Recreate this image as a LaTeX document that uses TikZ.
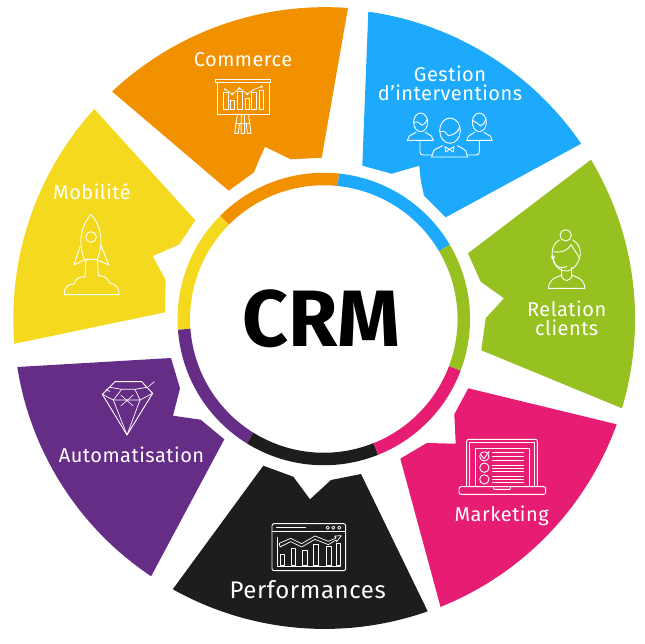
\documentclass[tikz,border=0pt]{standalone}
\usepackage{fontspec}
\setmainfont{Fira Sans}
\newfontfamily\lbl[LetterSpace=2.5]{Fira Sans}
\definecolor{cOrange}{HTML}{F29100}
\definecolor{cBlue}{HTML}{1EAAFC}
\definecolor{cYellow}{HTML}{F4D91E}
\definecolor{cGreen}{HTML}{97C021}
\definecolor{cPink}{HTML}{E71D73}
\definecolor{cBlack}{HTML}{1D1D1B}
\definecolor{cPurple}{HTML}{662D87}
\tikzset{
  icon/.style={draw=white,line width=0.9pt,line join=round,line cap=round,fill=none},
  label/.style={text=white,font=\lbl\fontsize{20}{20}\selectfont,anchor=base,inner sep=0pt},
  ringarc/.style={line width=12.5pt,line cap=butt},
  zoomed/.style={x=0.33333pt,y=-0.33333pt}
}
\begin{document}
\begin{tikzpicture}[x=1pt,y=1pt]
\useasboundingbox (0,0) rectangle (645,-643);
% wedges
\fill[cOrange] (348,-8) arc[start angle=85.8,end angle=133.2,radius=311.3]
  -- (228.7,-190.7) -- (254,-172.3) -- (258.3,-161.7) -- (265,-146.7) -- (290.7,-159.3) -- (321.7,-157.7) -- cycle;
\fill[cBlue] (368.3,-11.7) arc[start angle=82,end angle=34.4,radius=310.3]
  -- (445.7,-217.3) -- (424,-195.7) -- (420.7,-180) -- (419.3,-165.7) -- (391.7,-173.7) -- (362.3,-165.7) -- cycle;
\fill[cYellow] (94.3,-109) arc[start angle=137.7,end angle=184.7,radius=311]
  -- (165,-312.3) -- (165.7,-280.3) -- (152.7,-256) -- (179,-244.7) -- (195.3,-220.3) -- cycle;
\fill[cGreen] (591,-159.7) arc[start angle=30.9,end angle=-16.7,radius=310.4]
  -- (481.3,-350.3) -- (485.7,-318.3) -- (504,-298.3) -- (480.7,-281.7) -- (468,-253.3) -- cycle;
\fill[cPink] (616.7,-424.3) arc[start angle=-19.85,end angle=-68.1,radius=310.4]
  -- (400.3,-458.7) -- (426.7,-443) -- (455.7,-443.7) -- (454.3,-414.3) -- (468.3,-388.3) -- cycle;
\fill[cBlack] (427.7,-611.3) arc[start angle=-70.6,end angle=-119.3,radius=310.3]
  -- (263.3,-465.7) -- (293.3,-476.7) -- (310,-499.3) -- (331,-480) -- (361,-474) -- cycle;
\fill[cPurple] (17.3,-367) arc[start angle=188.9,end angle=236.3,radius=309]
  -- (224.3,-439.3) -- (200.7,-419.7) -- (173,-415.7) -- (180,-388.3) -- (171,-358) -- cycle;
% ring
\begin{scope}[shift={(323.8,-319)}]
\draw[ringarc,cOrange] (84:140) arc[start angle=84,end angle=135.2,radius=140];
\draw[ringarc,cYellow] (135.2:140) arc[start angle=135.2,end angle=184.2,radius=140];
\draw[ringarc,cPurple] (184.2:140) arc[start angle=184.2,end angle=238.3,radius=140];
\draw[ringarc,cBlack] (238.3:140) arc[start angle=238.3,end angle=291.8,radius=140];
\draw[ringarc,cPink] (291.8:140) arc[start angle=291.8,end angle=339.4,radius=140];
\draw[ringarc,cGreen] (339.4:140) arc[start angle=339.4,end angle=390.6,radius=140];
\draw[ringarc,cBlue] (30.6:140) arc[start angle=30.6,end angle=84,radius=140];
\end{scope}
% texts
\node[anchor=base,inner sep=0pt,font=\bfseries\fontsize{80}{80}\selectfont,text=black] (crm) at (321.5,-346.7) {CRM};
\node[label] (commerce) at (243,-66.7) {Commerce};
\node[label] (gestion) at (450,-81) {Gestion};
\node[label] (interv) at (450,-100.7) {d’interventions};
\node[label] (mobilite) at (92,-199.3) {Mobilité};
\node[label] (relation) at (566.7,-316.7) {Relation};
\node[label] (clients) at (566.7,-335.7) {clients};
\node[label] (marketing) at (501.7,-521.7) {Marketing};
\node[label,font=\lbl\fontsize{24}{24}\selectfont] (perf) at (307.7,-598.3) {Performances};
\node[label] (auto) at (131.5,-462.3) {Automatisation};
% Commerce icon
\begin{scope}[shift={(100,0)},zoomed]
\draw[icon] (347,238) rectangle (512,247);
\draw[icon] (352,247) rectangle (507,344);
\foreach \a/\b/\t in {370/384/278,390/403/300,412/426/275,435/447/296,455/469/278,477/490/272}
  \draw[icon,line width=0.7pt] (\a,\t) rectangle (\b,328);
\draw[icon,line width=0.7pt] (375,268) -- (397,282) -- (418,265) -- (442,282) -- (462,268) -- (485,260);
\foreach \p in {(375,268),(397,282),(418,265),(442,282),(485,260)}
  \fill[white] \p circle[radius=4];
\draw[icon] (412,344) -- (408,370) -- (404,400) -- (415,400) -- (418,372);
\draw[icon] (446,344) -- (449,370) -- (453,400) -- (442,400) -- (439,372);
\draw[icon] (424,344) -- (423,400) -- (434,400) -- (433,344);
\draw[icon] (408,370) -- (449,370);
\end{scope}
% Gestion icon
\begin{scope}[shift={(350,0)},zoomed]
\draw[icon] (300,392) ellipse[x radius=31,y radius=38];
\draw[icon] (270,395) .. controls (285,392) and (285,395) .. (295,407) .. controls (310,405) and (325,398) .. (330,378);
\draw[icon] (245,471) -- (353,471) -- (347,452) .. controls (340,445) and (330,442) .. (322,437);
\draw[icon] (245,471) -- (251,452) .. controls (258,445) and (270,442) .. (278,437);
\draw[icon] (285,440) -- (298,448) -- (312,440) -- (310,456) -- (298,448) -- (287,456) -- cycle;
\draw[icon] (212,367) ellipse[x radius=21,y radius=28];
\draw[icon] (192,367) .. controls (205,362) and (210,372) .. (216,376) .. controls (225,372) and (230,365) .. (232,358);
\draw[icon] (172,421) -- (250,421) -- (244,408) .. controls (238,403) and (232,402) .. (226,397);
\draw[icon] (172,421) -- (178,408) .. controls (184,403) and (192,402) .. (198,397);
\draw[icon] (210,421) -- (210,455) .. controls (210,462) and (213,465) .. (220,465) -- (245,465);
\draw[icon] (388,367) ellipse[x radius=21,y radius=28];
\draw[icon] (368,362) .. controls (378,365) and (385,372) .. (392,378) .. controls (400,372) and (405,368) .. (408,358);
\draw[icon] (350,421) -- (427,421) -- (421,408) .. controls (415,403) and (408,402) .. (402,397);
\draw[icon] (350,421) -- (356,408) .. controls (362,403) and (368,402) .. (374,397);
\draw[icon] (388,421) -- (388,455) .. controls (388,462) and (385,465) .. (378,465) -- (353,465);
\end{scope}
% Rocket icon
\begin{scope}[shift={(0,-100)},zoomed]
\draw[icon] (253,478) .. controls (235,430) and (240,380) .. (273,343) .. controls (306,380) and (311,430) .. (292,478) -- cycle;
\draw[icon] (273,411) circle[radius=16];
\draw[icon] (240,440) -- (222,495) -- (253,480);
\draw[icon] (305,440) -- (326,495) -- (292,480);
\draw[icon] (258,478) -- (255,532);
\draw[icon] (292,478) -- (295,528);
\draw[icon] (193,584) -- (357,584) .. controls (360,565) and (345,550) .. (330,550) .. controls (325,530) and (300,525) .. (295,528);
\draw[icon] (193,584) .. controls (190,565) and (205,550) .. (222,552) .. controls (225,532) and (248,527) .. (255,532);
\end{scope}
% Woman icon
\begin{scope}[shift={(450,-150)},zoomed]
\draw[icon] (295,415) -- (405,415) .. controls (403,395) and (395,385) .. (366,376);
\draw[icon] (295,415) .. controls (297,395) and (305,385) .. (335,376);
\draw[icon] (335,356) -- (335,380) .. controls (340,395) and (360,395) .. (365,380) -- (365,352);
\draw[icon] (328,270) .. controls (300,285) and (300,330) .. (322,352) .. controls (338,368) and (362,368) .. (378,345) .. controls (398,320) and (395,285) .. (368,270);
\draw[icon] (347,256) circle[radius=17];
\draw[icon] (312,305) .. controls (335,310) and (355,300) .. (363,284) .. controls (372,300) and (382,310) .. (388,325);
\draw[icon] (309,322) circle[radius=5];
\draw[icon] (311,330) .. controls (315,345) and (322,355) .. (340,352) -- (350,350);
\end{scope}
% Laptop icon
\begin{scope}[shift={(390,-380)},zoomed]
\draw[icon,rounded corners=2pt] (230,320) -- (230,178) -- (442,178) -- (442,320);
\draw[icon] (238,320) -- (238,188) -- (434,188) -- (434,320);
\draw[icon] (255,320) -- (255,205) -- (418,205) -- (418,320);
\draw[icon,rounded corners=2pt] (207,320) rectangle (467,343);
\draw[icon] (310,320) -- (312,328) -- (360,328) -- (362,320);
\draw[icon] (283,229) circle[radius=14];
\draw[icon] (283,263) circle[radius=14];
\draw[icon] (283,298) circle[radius=14];
\draw[icon] (274,226) -- (282,236) -- (298,214);
\foreach \y in {218,230,242,255,265,273,288,298,308}
  \draw[icon] (308,\y) -- (400,\y);
\end{scope}
% Performance icon
\begin{scope}[shift={(160,-450)},zoomed]
\draw[icon,rounded corners=2pt] (336,221) rectangle (557,362);
\draw[icon] (336,243) -- (557,243);
\draw[icon] (350,232) -- (437,232);
\foreach \x in {503,520,538} \draw[icon,line width=0.7pt] (\x,233) circle[radius=5];
\draw[icon,line width=0.7pt] (353,262) -- (353,348) -- (541,348);
\foreach \a/\b/\t in {361/373/314,394/407/295,428/441/300,461/475/282,499/513/288,530/541/280}
  \draw[icon,line width=0.7pt] (\a,\t) rectangle (\b,345);
\draw[icon,line width=0.7pt] (358,280) -- (392,265) -- (425,281) -- (465,258) -- (505,274) -- (528,264) -- (524,258) -- (544,257) -- (530,275) -- (528,270) -- (505,284) -- (465,268) -- (425,291) -- (392,275) -- (360,291) -- cycle;
\end{scope}
% Diamond icon
\begin{scope}[shift={(0,-350)},zoomed]
\draw[icon] (307,133) -- (345,95) -- (425,95) -- (458,130) -- (381,255) -- cycle;
\draw[icon,line width=0.7pt] (307,133) -- (340,150) -- (420,150) -- (458,130);
\draw[icon,line width=0.7pt] (330,112) -- (365,118) -- (405,118) -- (440,112);
\draw[icon,line width=0.7pt] (365,118) -- (340,150) -- (381,255) -- (420,150) -- (405,118);
\draw[icon,line width=0.6pt] (362,135) -- (400,168);
\draw[icon,line width=0.6pt] (400,135) -- (362,168);
\draw[icon,line width=0.6pt] (445,110) -- (463,95);
\draw[icon,line width=0.6pt] (318,118) -- (330,125);
\end{scope}
\end{tikzpicture}
\end{document}
